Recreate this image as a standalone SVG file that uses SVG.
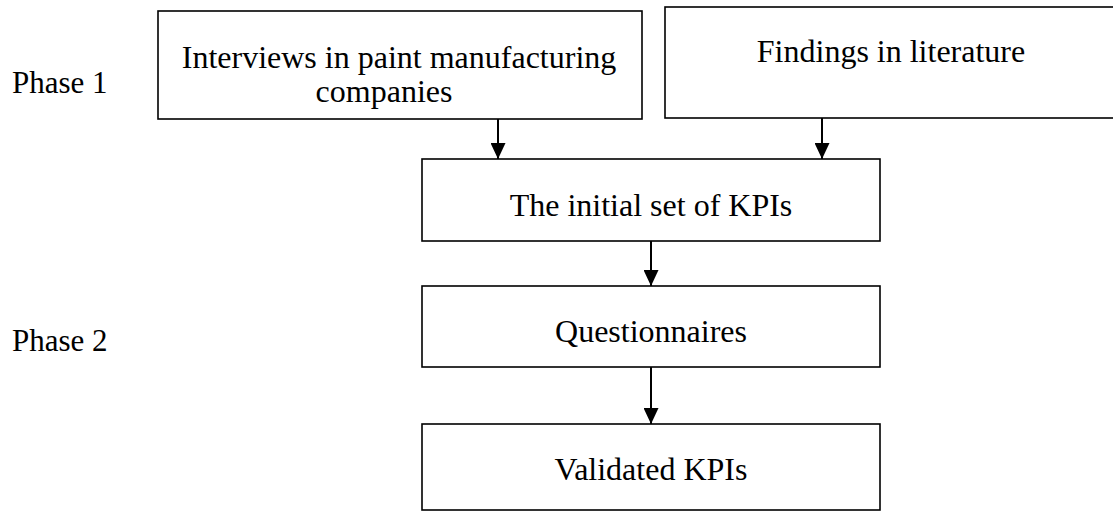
<svg xmlns="http://www.w3.org/2000/svg" width="1113" height="512" viewBox="0 0 1113 512">
  <style>
    .box { fill: #ffffff; stroke: #000000; stroke-width: 1.6; }
    .lbl { font-family: "Liberation Serif", "Times New Roman", serif; font-size: 32px; fill: #000000; }
    .phase { font-family: "Liberation Serif", "Times New Roman", serif; font-size: 31px; fill: #000000; }
    .conn { stroke: #000000; stroke-width: 2; fill: none; }
  </style>
  <defs>
    <marker id="arrow" viewBox="0 0 16 15" refX="16" refY="7.5" markerWidth="16" markerHeight="15" markerUnits="userSpaceOnUse" orient="auto">
      <path d="M0,0 L16,7.5 L0,15 Z" fill="#000000"/>
    </marker>
  </defs>
  <rect width="1113" height="512" fill="#ffffff"/>

  <!-- phase labels -->
  <text class="phase" x="12" y="93">Phase 1</text>
  <text class="phase" x="12" y="351">Phase 2</text>

  <g id="interviews">
    <rect class="box" x="158" y="11" width="484" height="108"/>
    <text class="lbl" x="399" y="68" text-anchor="middle">Interviews in paint manufacturing</text>
    <text class="lbl" x="384" y="102" text-anchor="middle">companies</text>
  </g>

  <g id="literature">
    <rect class="box" x="665" y="7" width="460" height="111"/>
    <text class="lbl" x="891" y="62" text-anchor="middle">Findings in literature</text>
  </g>

  <g id="initial-kpis">
    <rect class="box" x="422" y="159" width="458" height="82"/>
    <text class="lbl" x="651" y="216" text-anchor="middle">The initial set of KPIs</text>
  </g>

  <g id="questionnaires">
    <rect class="box" x="422" y="286" width="458" height="81"/>
    <text class="lbl" x="651" y="342" text-anchor="middle">Questionnaires</text>
  </g>

  <g id="validated-kpis">
    <rect class="box" x="422" y="424" width="458" height="86"/>
    <text class="lbl" x="651" y="480" text-anchor="middle">Validated KPIs</text>
  </g>

  <g id="connectors">
    <line class="conn" x1="498" y1="119" x2="498" y2="159" marker-end="url(#arrow)"/>
    <line class="conn" x1="822" y1="118" x2="822" y2="159" marker-end="url(#arrow)"/>
    <line class="conn" x1="651" y1="241" x2="651" y2="286" marker-end="url(#arrow)"/>
    <line class="conn" x1="651" y1="367" x2="651" y2="424" marker-end="url(#arrow)"/>
  </g>
</svg>
